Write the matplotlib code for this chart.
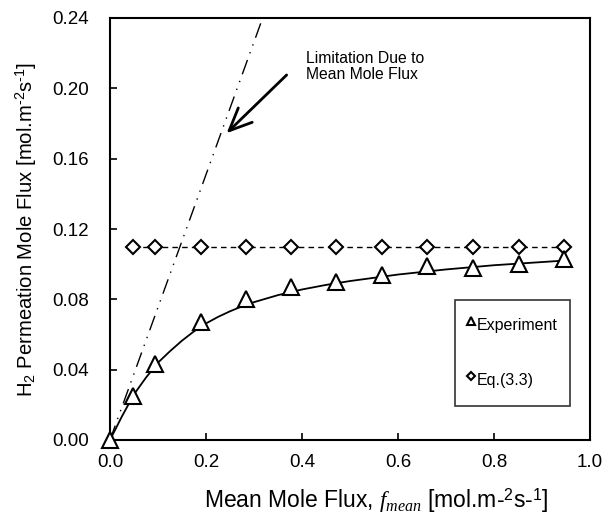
import numpy as np
import matplotlib
matplotlib.use("Agg")
import matplotlib.pyplot as plt
from matplotlib.lines import Line2D

plt.rcParams["font.family"] = ["Liberation Sans", "DejaVu Sans"]
plt.rcParams["mathtext.fontset"] = "custom"
plt.rcParams["mathtext.rm"] = "Liberation Sans"
plt.rcParams["mathtext.it"] = "Liberation Serif:italic"

# Experimental data (triangles)
exp_x = [0.0, 0.047, 0.094, 0.189, 0.283, 0.377, 0.471, 0.566, 0.661, 0.757, 0.852, 0.946]
exp_y = [0.000, 0.025, 0.043, 0.067, 0.080, 0.087, 0.090, 0.094, 0.099, 0.098, 0.100, 0.103]

# Eq.(3.3) (diamonds)
eq_x = [0.047, 0.094, 0.189, 0.283, 0.377, 0.471, 0.566, 0.661, 0.757, 0.852, 0.946]
eq_y = [0.110] * len(eq_x)

# fitted curve through experiment
fit_x = [0, 0.025, 0.05, 0.075, 0.1, 0.125, 0.15, 0.175, 0.2, 0.225, 0.25, 0.275, 0.3,
         0.35, 0.4, 0.45, 0.5, 0.6, 0.7, 0.8, 0.9, 0.95]
fit_y = [0, 0.0135, 0.026, 0.0355, 0.044, 0.0505, 0.0565, 0.0618, 0.0663, 0.0700, 0.0732,
         0.0760, 0.0784, 0.0824, 0.0856, 0.0882, 0.0904, 0.0941, 0.0970, 0.0994, 0.1012,
         0.1021]

# limitation line
lim_x = [0.0, 0.318]
lim_y = [0.0, 0.24]

fig = plt.figure(figsize=(6.08, 5.15), dpi=100)
ax = fig.add_axes([110 / 608, 75 / 515, 480 / 608, 422 / 515])

ax.plot(lim_x, lim_y, color="black", lw=1.0, linestyle=(0, (11, 5, 1, 5, 1, 5)))
ax.plot(fit_x, fit_y, color="black", lw=1.3)
ax.plot(eq_x, eq_y, color="black", lw=1.0, linestyle=(0, (4, 3)))
ax.plot(eq_x, eq_y, linestyle="none", marker="D", ms=7.5, mfc="white", mec="black", mew=1.5)
ax.plot(exp_x, exp_y, linestyle="none", marker="^", ms=11, mfc="white", mec="black", mew=1.5,
        clip_on=False, zorder=5)

ax.annotate("", xy=(0.243, 0.1745), xytext=(0.368, 0.2076),
            arrowprops=dict(arrowstyle="->,head_length=0.9,head_width=0.4",
                            color="black", lw=2.0, mutation_scale=18,
                            shrinkA=0, shrinkB=0))
ax.text(0.408, 0.2215, "Limitation Due to\nMean Mole Flux", fontsize=11.3, va="top",
        ha="left", linespacing=1.15)

ax.set_xlim(0, 1.0)
ax.set_ylim(0, 0.24)
ax.set_xticks(np.arange(0, 1.01, 0.2))
ax.set_yticks(np.arange(0, 0.241, 0.04))
ax.set_xticklabels([f"{v:.1f}" for v in np.arange(0, 1.01, 0.2)])
ax.set_yticklabels([f"{v:.2f}" for v in np.arange(0, 0.241, 0.04)])
ax.tick_params(direction="in", length=5, width=1.2, labelsize=13.5)
ax.tick_params(axis="x", pad=10)
ax.tick_params(axis="y", pad=15)
for s in ax.spines.values():
    s.set_linewidth(1.5)

ax.set_xlabel(r"Mean Mole Flux, $f_{mean}$ [mol.m-$^{\text{2}}$s-$^{\text{1}}$]", fontsize=16.5)
ax.xaxis.set_label_coords(0.555, -0.11)
ax.set_ylabel(r"H$_2$ Permeation Mole Flux [mol.m$^{\text{-2}}$s$^{\text{-1}}$]", fontsize=14.6,
              labelpad=10)

handles = [
    Line2D([], [], linestyle="none", marker="^", ms=6, mfc="white", mec="black", mew=1.5),
    Line2D([], [], linestyle="none", marker="D", ms=4.2, mfc="white", mec="black", mew=1.5),
]
leg = ax.legend(handles, ["Experiment", "Eq.(3.3)"], loc="lower right",
                bbox_to_anchor=(0.958, 0.08), fontsize=11.5, frameon=True, fancybox=False,
                edgecolor="black", labelspacing=1.7, borderpad=0.75, handlelength=0.55,
                handleheight=2.3, handletextpad=0.1, borderaxespad=0)
leg.get_frame().set_linewidth(1.2)

fig.savefig("out.png", dpi=100)
